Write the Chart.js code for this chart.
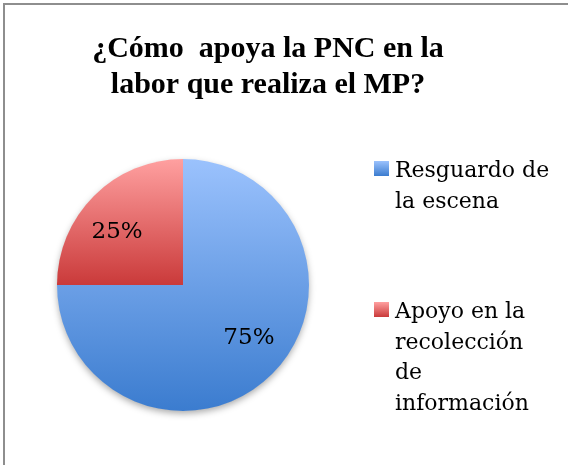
<!DOCTYPE html>
<html><head><meta charset="utf-8">
<script src="https://cdn.jsdelivr.net/npm/chart.js@4/dist/chart.umd.min.js"></script>
<style>html,body{margin:0;padding:0;background:#fff}canvas{display:block}</style>
</head><body>
<canvas id="c" width="568" height="465"></canvas>
<script>
// ---- data ----
const titleLines = ['¿Cómo  apoya la PNC en la', 'labor que realiza el MP?'];
const categories = [['Resguardo de', 'la escena'], ['Apoyo en la', 'recolección', 'de', 'información']];
const values = [75, 25];
const colorsTop = ['#9BC2FD', '#FFA0A0'];
const colorsBottom = ['#3B7CCF', '#CA3A3A'];

const TEXT_FONT = '"DejaVu Serif", serif';

// geometry of a slice computed from the data and chart area
function sliceExtent(chart, i) {
  const a = chart.chartArea;
  const cx = (a.left + a.right) / 2, cy = (a.top + a.bottom) / 2;
  const r = Math.min(a.width, a.height) / 2;
  const total = values.reduce((s, v) => s + v, 0);
  let cum = 0;
  for (let k = 0; k < i; k++) cum += values[k];
  const s = -Math.PI / 2 + 2 * Math.PI * cum / total;
  const e = s + 2 * Math.PI * values[i] / total;
  const ys = [cy, cy + r * Math.sin(s), cy + r * Math.sin(e)];
  [-Math.PI / 2, Math.PI / 2, 3 * Math.PI / 2, 5 * Math.PI / 2].forEach(t => {
    if (t >= s && t <= e) ys.push(cy + r * Math.sin(t));
  });
  return { top: Math.min(...ys), bottom: Math.max(...ys), cx, cy, r };
}

function sliceFill(context) {
  const chart = context.chart;
  if (!chart.chartArea) return colorsBottom[context.dataIndex];
  const i = context.dataIndex;
  const ex = sliceExtent(chart, i);
  const g = chart.ctx.createLinearGradient(0, ex.top, 0, ex.bottom);
  g.addColorStop(0, colorsTop[i]);
  g.addColorStop(1, colorsBottom[i]);
  return g;
}

// frame, shadow, value labels
const decor = {
  id: 'decor',
  beforeDraw(chart) {
    const c = chart.ctx;
    c.save();
    c.fillStyle = '#8E8E8E';
    c.fillRect(3, 3, 2, chart.height - 3);
    c.fillRect(3, 3, chart.width - 3, 2);
    c.restore();
  },
  beforeDatasetsDraw(chart) {
    const arc = chart.getDatasetMeta(0).data[0];
    if (!arc) return;
    const c = chart.ctx;
    c.save();
    c.shadowColor = 'rgba(0,0,0,0.35)';
    c.shadowBlur = 7;
    c.shadowOffsetY = 3;
    c.fillStyle = '#ffffff';
    c.beginPath();
    c.arc(arc.x, arc.y, arc.outerRadius - 0.5, 0, Math.PI * 2);
    c.fill();
    c.restore();
  },
  afterDatasetsDraw(chart) {
    const c = chart.ctx;
    const total = values.reduce((s, v) => s + v, 0);
    c.save();
    c.font = '23px ' + TEXT_FONT;
    c.fillStyle = '#000';
    c.textAlign = 'center';
    c.textBaseline = 'middle';
    chart.getDatasetMeta(0).data.forEach((arc, i) => {
      const mid = (arc.startAngle + arc.endAngle) / 2;
      const r = arc.outerRadius;
      c.fillText(Math.round(values[i] / total * 100) + '%',
        arc.x + Math.cos(mid) * r * 0.74, arc.y + Math.sin(mid) * r * 0.6);
    });
    c.restore();
  }
};

// legend as a layout box on the right
const sideLegend = {
  id: 'sideLegend',
  beforeInit(chart) {
    const box = {
      position: 'right', weight: 10, fullSize: false,
      options: { stack: undefined, stackWeight: 1 },
      left: 0, top: 0, right: 0, bottom: 0, width: 0, height: 0,
      isHorizontal() { return false; },
      update(maxW, maxH) { this.width = 170; this.height = maxH; },
      draw() {
        const c = chart.ctx;
        const a = chart.chartArea;
        const cy = (a.top + a.bottom) / 2;
        const lh = 30.7, gap = 79.6;
        let base = cy - 108;
        const x0 = this.left + 65;
        c.save();
        c.font = '22px ' + TEXT_FONT;
        c.fillStyle = '#000';
        c.textAlign = 'left';
        c.textBaseline = 'alphabetic';
        categories.forEach((lines, i) => {
          const g = c.createLinearGradient(0, base - 16, 0, base - 1);
          g.addColorStop(0, colorsTop[i]);
          g.addColorStop(1, colorsBottom[i]);
          c.fillStyle = g;
          c.fillRect(x0, base - 16, 15, 15);
          c.fillStyle = '#000';
          lines.forEach((t, k) => c.fillText(t, x0 + 21, base + k * lh));
          base += lines.length * lh + gap;
        });
        c.restore();
      }
    };
    Chart.layouts.addBox(chart, box);
  }
};

new Chart(document.getElementById('c'), {
  type: 'pie',
  data: {
    labels: categories,
    datasets: [{ data: values, backgroundColor: sliceFill, borderWidth: 0 }]
  },
  options: {
    responsive: false,
    devicePixelRatio: 1,
    animation: false,
    layout: { padding: { left: 57, right: 89, top: 0, bottom: 54 } },
    plugins: {
      legend: { display: false },
      tooltip: { enabled: false },
      title: {
        display: true,
        text: titleLines,
        color: '#000',
        font: { family: '"Liberation Serif", serif', size: 30, weight: 'bold', lineHeight: 1.2 },
        padding: { top: 31, bottom: 56 }
      }
    }
  },
  plugins: [decor, sideLegend]
});
</script>
</body></html>
